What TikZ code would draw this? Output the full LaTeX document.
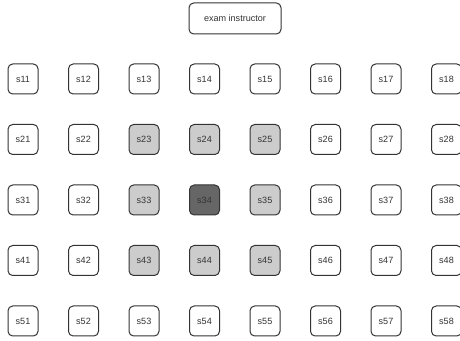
\documentclass[tikz,border=0pt]{standalone}
\usepackage{fontspec}
\setmainfont{Liberation Sans}
\definecolor{borde}{HTML}{333333}
\definecolor{cercano}{HTML}{CCCCCC}
\definecolor{sospechoso}{HTML}{666666}
\begin{document}
\begin{tikzpicture}[
    x=0.75pt,
    y=-0.75pt,
    caja/.style={draw=borde, line width=0.75pt, rounded corners=3.5pt, inner sep=0pt,
        text=borde, font=\fontsize{6.8}{8}\selectfont},
    asiento/.style={caja, minimum width=22.5pt, minimum height=22.5pt},
    profesor/.style={caja, minimum width=69pt, minimum height=23.25pt}
]
\useasboundingbox (0,0) rectangle (460,341);

% Mesa del profesor
\node[profesor] (instructor) at (235,18.5) {exam instructor};

% Asientos: fila / columna, el color depende de la distancia a s34
\foreach \f in {1,...,5}{
    \foreach \c in {1,...,8}{
        \pgfmathtruncatemacro\dist{max(abs(\f-3),abs(\c-4))}
        \ifnum\dist=0
            \def\relleno{sospechoso}
        \else\ifnum\dist=1
            \def\relleno{cercano}
        \else
            \def\relleno{white}
        \fi\fi
        \node[asiento, fill=\relleno] (s\f\c) at ({23+60.5*(\c-1)},{79+60.5*(\f-1)}) {s\f\c};
    }
}

\end{tikzpicture}
\end{document}
